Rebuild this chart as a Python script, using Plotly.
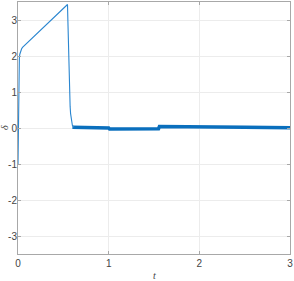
import plotly.graph_objects as go

# transient part (thin line)
t_trans = [0, 0.003, 0.006, 0.01, 0.015, 0.02, 0.03, 0.04, 0.05, 0.1, 0.2, 0.3, 0.4, 0.5,
           0.546, 0.55, 0.555, 0.56, 0.565, 0.57, 0.575, 0.58, 0.59, 0.6, 0.62]
d_trans = [-1.0, 0.2, 1.0, 1.6, 1.95, 2.05, 2.15, 2.2, 2.24, 2.36, 2.6, 2.84, 3.08, 3.32,
           3.43, 3.0, 2.4, 1.8, 1.3, 0.9, 0.6, 0.4, 0.18, 0.07, 0.02]

# steady-state chattering band
t_ss = [0.6, 1.0, 1.01, 1.55, 1.56, 1.8, 2.5, 3.0]
d_ss = [0.02, 0.0, -0.03, -0.02, 0.04, 0.03, 0.02, 0.01]

x_ticks = [0, 1, 2, 3]
y_ticks = [-3, -2, -1, 0, 1, 2, 3]

fig = go.Figure()
fig.add_trace(go.Scatter(x=t_ss, y=d_ss, mode="lines",
                         line=dict(color="#0a6fbd", width=3.5), hoverinfo="skip"))
fig.add_trace(go.Scatter(x=t_trans, y=d_trans, mode="lines",
                         line=dict(color="#2a86d0", width=1.1), hoverinfo="skip"))

tick_font = dict(family="Liberation Sans Narrow, Liberation Sans, Arial", size=10, color="#444444")
axis_common = dict(
    showgrid=True, gridcolor="#ececec", gridwidth=1,
    showline=True, linecolor="#a8a8a8", linewidth=1, mirror="ticks",
    ticks="inside", ticklen=3, tickcolor="#a8a8a8",
    zeroline=False, automargin=False,
    tickfont=tick_font,
)

fig.update_layout(
    width=294, height=281,
    margin=dict(l=18, r=4, t=2, b=27),
    paper_bgcolor="white", plot_bgcolor="white",
    showlegend=False,
    xaxis=dict(range=[0, 3], tickvals=x_ticks, ticktext=[str(v) for v in x_ticks], **axis_common),
    yaxis=dict(range=[-3.5, 3.5], tickvals=y_ticks, ticktext=[str(v) for v in y_ticks],
               ticklabelstandoff=-2, **axis_common),
)

title_font = dict(family="Liberation Serif, DejaVu Serif", size=10, color="#444444")
fig.add_annotation(text="<i>t</i>", xref="paper", yref="paper", x=0.5, y=0,
                   yshift=-21, xanchor="center", yanchor="middle", showarrow=False, font=title_font)
fig.add_annotation(text="<i>δ</i>", xref="paper", yref="paper", x=0, y=0.5,
                   xshift=-14, xanchor="center", yanchor="middle", textangle=-90,
                   showarrow=False, font=title_font)

fig.write_html("out.html", config={"displayModeBar": False},
               post_script="document.body.style.margin='0';document.body.style.overflow='hidden';")
